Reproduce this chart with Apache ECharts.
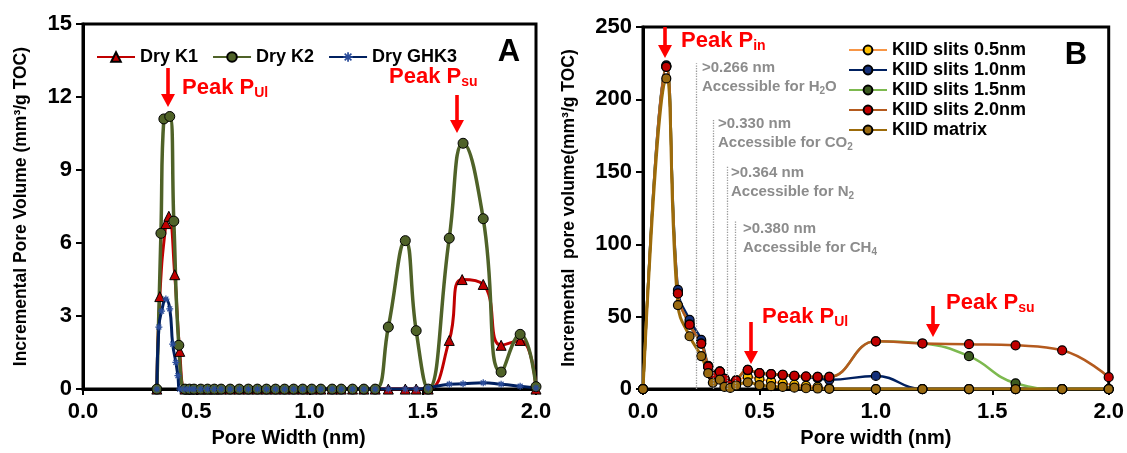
<!DOCTYPE html>
<html>
<head>
<meta charset="utf-8">
<title>Incremental pore volume</title>
<script src="https://cdn.jsdelivr.net/npm/echarts@6/dist/echarts.min.js"></script>
<style>
html, body { margin: 0; padding: 0; background: #fff; }
#main { width: 1127px; height: 453px; }
</style>
</head>
<body>
<div id="main"></div>
<script>
var FONT = 'Liberation Sans, Arial, Helvetica, sans-serif';

// ---- panel A : dry samples ----
// flat stretch between the two peak groups (all read as 0)
var flatX = [0.45, 0.47, 0.49, 0.52, 0.55, 0.58, 0.61, 0.65, 0.69, 0.73, 0.77, 0.81,
             0.85, 0.89, 0.93, 0.97, 1.01, 1.05, 1.10, 1.14, 1.19, 1.24, 1.29];
var flatY = [0, 0, 0, 0, 0, 0, 0, 0, 0, 0, 0, 0,
             0, 0, 0, 0, 0, 0, 0, 0, 0, 0, 0];

var k1HeadX = [0.326, 0.339, 0.366, 0.379, 0.405, 0.427];
var k1HeadY = [0, 3.8, 6.8, 7.1, 4.7, 1.55];
var k1TailX = [1.348, 1.423, 1.471, 1.524, 1.617, 1.674, 1.767, 1.846, 1.93, 2.0];
var k1TailY = [0, 0, 0, 0, 2.0, 4.5, 4.3, 1.8, 2.0, 0];

var k2HeadX = [0.326, 0.344, 0.357, 0.383, 0.401, 0.423];
var k2HeadY = [0, 6.4, 11.1, 11.2, 6.9, 1.8];
var k2TailX = [1.348, 1.423, 1.471, 1.524, 1.617, 1.678, 1.767, 1.846, 1.93, 2.0];
var k2TailY = [2.55, 6.1, 2.4, 0, 6.2, 10.1, 7.0, 0.7, 2.25, 0.1];

var g3HeadX = [0.326, 0.335, 0.347, 0.366, 0.383, 0.396, 0.41, 0.419, 0.427];
var g3HeadY = [0, 2.55, 3.2, 3.7, 3.3, 1.85, 1.1, 0.55, 0];
var g3TailX = [1.348, 1.423, 1.471, 1.524, 1.617, 1.678, 1.767, 1.846, 1.93, 2.0];
var g3TailY = [0, 0, 0, 0.05, 0.2, 0.22, 0.26, 0.2, 0.12, 0.05];

// ---- panel B : KIID model ----
var bWidth  = [0, 0.1, 0.15, 0.2, 0.25, 0.28, 0.3, 0.33, 0.35, 0.375, 0.4, 0.45, 0.5,
               0.55, 0.6, 0.65, 0.7, 0.75, 0.8, 1.0, 1.2, 1.4, 1.6, 1.8, 2.0];
var slit05  = [0, 223, 67, 46, 33, 15.5, 9.5, 12, 7, 2.5, 5, 8.5, 7,
               5.3, 4, 3, 2.2, 1.5, 0.5, 0, 0, 0, 0, 0, 0];
var slit10  = [0, 223.5, 68.5, 47.8, 34, 16, 10, 12, 7, 3, 5.8, 13, 10.8,
               10.2, 9.7, 9, 8.5, 7.5, 6.4, 9.1, 0, 0, 0, 0, 0];
var slit15  = [0, 222.5, 66, 44.5, 31.4, 15.5, 9, 12, 7, 3, 6, 13.3, 11,
               10.4, 9.9, 9.2, 8.7, 8.5, 8.4, 33, 31.5, 22.7, 4, 0, 0];
var slit20  = [0, 222.5, 66, 44.5, 31.4, 15.5, 9, 12, 7, 3, 6, 13.3, 11,
               10.4, 9.9, 9.2, 8.7, 8.5, 8.4, 33, 31.5, 31, 30.2, 26.8, 8.2];
var matrix  = [0, 214.5, 58, 36.5, 22.8, 11, 4.5, 6.5, 1.5, 0.8, 2.5, 4.7, 2.8,
               2, 1.5, 1, 0.6, 0.4, 0.2, 0, 0, 0, 0, 0, 0];

// molecule cut-offs (dotted guides): x position and top
var cutX   = [0.228, 0.302, 0.36, 0.395];
var cutTop = [225, 186, 154, 116];

var legendA = ['Dry K1', 'Dry K2', 'Dry GHK3'];
var legendB = ['KIID slits 0.5nm', 'KIID slits 1.0nm', 'KIID slits 1.5nm', 'KIID slits 2.0nm', 'KIID matrix'];

function pairs(xs, ys) {
  return xs.map(function (x, i) { return [x, ys[i]]; });
}

var star = 'path://M-5,-0.9L5,-0.9L5,0.9L-5,0.9Z M-0.9,-5L0.9,-5L0.9,5L-0.9,5Z ' +
           'M-2.9,-4.1L4.1,2.9L2.9,4.1L-4.1,-2.9Z M-4.1,2.9L2.9,-4.1L4.1,-2.9L-2.9,4.1Z';

function xAx(idx, title, pad) {
  return {
    gridIndex: idx, type: 'value', min: 0, max: 2, interval: 0.5,
    axisLine: { lineStyle: { color: '#000', width: 3 } },
    axisTick: { show: true, length: 6, lineStyle: { color: '#000', width: 2 } },
    axisLabel: { fontSize: 22, fontWeight: 'bold', color: '#000', fontFamily: FONT, margin: 12,
      formatter: function (v) { return v.toFixed(1); } },
    splitLine: { show: false },
    name: title, nameLocation: 'middle', nameGap: 37,
    nameTextStyle: { fontSize: 20, fontWeight: 'bold', color: '#000', fontFamily: FONT, padding: pad }
  };
}
function yAx(idx, max, step, title, gap, pad) {
  return {
    gridIndex: idx, type: 'value', min: 0, max: max, interval: step,
    axisLine: { show: true, lineStyle: { color: '#000', width: 3 } },
    axisTick: { show: true, length: 7, lineStyle: { color: '#000', width: 2 } },
    axisLabel: { fontSize: 22, fontWeight: 'bold', color: '#000', fontFamily: FONT, margin: 11 },
    splitLine: { show: false },
    name: title, nameLocation: 'middle', nameGap: gap,
    nameTextStyle: { fontSize: 17.5, fontWeight: 'bold', color: '#000', fontFamily: FONT, padding: pad }
  };
}

function lineB(name, data, line, lw, dot) {
  return {
    name: name, type: 'line', xAxisIndex: 1, yAxisIndex: 1,
    data: pairs(bWidth, data), smooth: 0.45,
    symbol: 'circle', symbolSize: 9,
    lineStyle: { color: line, width: lw },
    itemStyle: { color: dot, borderColor: '#000', borderWidth: 1.2 }
  };
}

function arrow(x, y1, y2) {
  return { type: 'group', children: [
    { type: 'rect', shape: { x: x - 1.8, y: y1, width: 3.6, height: y2 - y1 - 12 }, style: { fill: '#FF0000' } },
    { type: 'polygon', shape: { points: [[x - 7, y2 - 13], [x + 7, y2 - 13], [x, y2]] }, style: { fill: '#FF0000' } }
  ] };
}
function peak(x, y, sub) {
  return { type: 'text', x: x, y: y, style: {
    text: '{m|Peak P}{s|' + sub + '}', align: 'left', verticalAlign: 'middle',
    rich: {
      m: { fontSize: 22, fontWeight: 'bold', fontFamily: FONT, fill: '#FF0000', lineHeight: 24 },
      s: { fontSize: 14, fontWeight: 'bold', fontFamily: FONT, fill: '#FF0000', lineHeight: 4, verticalAlign: 'bottom' }
    } } };
}
function note(x, y, val, gas, sub, tail) {
  var t = '{a|>' + val + ' nm}\n{a|Accessible for ' + gas + '}{s|' + sub + '}' + (tail ? '{a|' + tail + '}' : '');
  return { type: 'text', x: x, y: y, style: {
    text: t, align: 'left', verticalAlign: 'top',
    rich: {
      a: { fontSize: 15, fontWeight: 'bold', fontFamily: FONT, fill: '#8C8C8C', lineHeight: 19 },
      s: { fontSize: 10, fontWeight: 'bold', fontFamily: FONT, fill: '#8C8C8C', lineHeight: 4, verticalAlign: 'bottom' }
    } } };
}

var cutLines = cutX.map(function (x, i) {
  return [{ coord: [x, 0] }, { coord: [x, cutTop[i]] }];
});

var myChart = echarts.init(document.getElementById('main'));
var option = {
  animation: false,
  backgroundColor: '#fff',
  textStyle: { fontFamily: FONT },
  grid: [
    { left: 83, top: 24, width: 453, height: 370, show: true, borderColor: '#000', borderWidth: 3 },
    { left: 643, top: 27, width: 466, height: 366, show: true, borderColor: '#000', borderWidth: 3 }
  ],
  xAxis: [ xAx(0, 'Pore Width (nm)', [0, 42, 0, 0]), xAx(1, 'Pore width (nm)', [0, 0, 0, 0]) ],
  yAxis: [
    yAx(0, 15, 3, 'Incremental Pore Volume (mm³/g TOC)', 53, [0, 0, 0, 0]),
    yAx(1, 250, 50, 'Incremental  pore volume(mm³/g TOC)', 65, [0, 0, 0, 0])
  ],
  legend: [
    { data: legendA, left: 91, top: 43, itemWidth: 38, itemHeight: 12, itemGap: 14,
      textStyle: { fontSize: 18, fontWeight: 'bold', color: '#000', fontFamily: FONT } },
    { data: legendB, left: 843, top: 35, orient: 'vertical', itemWidth: 38, itemHeight: 11, itemGap: 0,
      textStyle: { fontSize: 18, fontWeight: 'bold', color: '#000', fontFamily: FONT, lineHeight: 20 } }
  ],
  series: [
    { name: 'Dry K1', type: 'line', xAxisIndex: 0, yAxisIndex: 0,
      data: pairs(k1HeadX.concat(flatX, k1TailX), k1HeadY.concat(flatY, k1TailY)),
      smooth: 0.5, symbol: 'triangle', symbolSize: 10,
      lineStyle: { color: '#C00000', width: 3 },
      itemStyle: { color: '#C00000', borderColor: '#000', borderWidth: 1 } },
    { name: 'Dry K2', type: 'line', xAxisIndex: 0, yAxisIndex: 0,
      data: pairs(k2HeadX.concat(flatX, k2TailX), k2HeadY.concat(flatY, k2TailY)),
      smooth: 0.5, symbol: 'circle', symbolSize: 10,
      lineStyle: { color: '#4F6228', width: 3.5 },
      itemStyle: { color: '#4F6228', borderColor: '#000', borderWidth: 1 } },
    { name: 'Dry GHK3', type: 'line', xAxisIndex: 0, yAxisIndex: 0,
      data: pairs(g3HeadX.concat(flatX, g3TailX), g3HeadY.concat(flatY, g3TailY)),
      smooth: 0.5, symbol: star, symbolSize: 7,
      lineStyle: { color: '#002060', width: 3 },
      itemStyle: { color: '#2A4C9A' } },

    (function () {
      var s = lineB('KIID slits 0.5nm', slit05, '#F79646', 2, '#FFC000');
      s.markLine = { silent: true, symbol: 'none', label: { show: false },
        lineStyle: { color: '#9A9A9A', type: 'dotted', width: 1.3 }, data: cutLines };
      return s;
    })(),
    lineB('KIID slits 1.0nm', slit10, '#002060', 2.5, '#14307A'),
    lineB('KIID slits 1.5nm', slit15, '#7DB94F', 2.5, '#3B5A1F'),
    lineB('KIID slits 2.0nm', slit20, '#B45A1E', 2.5, '#C00000'),
    lineB('KIID matrix', matrix, '#9C6B0A', 3, '#9A6A10')
  ],
  graphic: [
    { type: 'text', x: 509, y: 52, style: { text: 'A', fontSize: 31, fontWeight: 'bold', fontFamily: FONT, fill: '#000', align: 'center', verticalAlign: 'middle' } },
    { type: 'text', x: 1076, y: 55, style: { text: 'B', fontSize: 31, fontWeight: 'bold', fontFamily: FONT, fill: '#000', align: 'center', verticalAlign: 'middle' } },
    arrow(168, 68, 107), peak(182, 88, 'Ul'),
    arrow(457, 95, 133), peak(389, 77, 'su'),
    arrow(665, 27, 58), peak(681, 41, 'in'),
    arrow(751, 322, 364), peak(762, 317, 'Ul'),
    arrow(933, 306, 337), peak(946, 303, 'su'),
    note(702, 58, '0.266', 'H', '2', 'O'),
    note(718, 114, '0.330', 'CO', '2', ''),
    note(731, 163, '0.364', 'N', '2', ''),
    note(743, 219, '0.380', 'CH', '4', '')
  ]
};
// 为echarts对象加载数据
myChart.setOption(option);
</script>
</body>
</html>
